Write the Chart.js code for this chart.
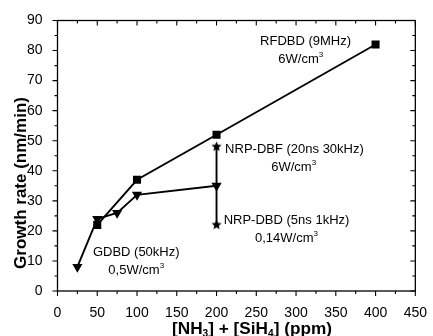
<!DOCTYPE html>
<html><head><meta charset="utf-8">
<script src="https://cdn.jsdelivr.net/npm/chart.js@4.4.1/dist/chart.umd.min.js"></script>
<style>html,body{margin:0;padding:0;background:#fff;overflow:hidden}canvas{display:block}</style>
</head><body>
<canvas id="c" width="433" height="336"></canvas>
<script>
// ---- data ----
const rfdbdX = [50, 100, 200, 400];
const rfdbdY = [22, 37, 52, 82];
const gdbdX = [25, 50, 75, 100, 200];
const gdbdY = [8, 24, 26, 32, 35];
const nrpX = [200, 200];
const nrpY = [48, 22];
const xTickLabels = [0, 50, 100, 150, 200, 250, 300, 350, 400, 450];
const yTickLabels = [0, 10, 20, 30, 40, 50, 60, 70, 80, 90];
const xTitleParts = ['[NH', '3', '] + [SiH', '4', '] (ppm)'];
const yTitle = 'Growth rate (nm/min)';
const annotTexts = ['RFDBD (9MHz)', '6W/cm', 'NRP-DBF (20ns 30kHz)', '6W/cm', 'NRP-DBD (5ns 1kHz)', '0,14W/cm', 'GDBD (50kHz)', '0,5W/cm'];
const annotSup = ['', '3', '', '3', '', '3', '', '3'];
const annotX = [312, 306, 298, 297, 288, 288, 99, 99];
const annotY = [83, 77, 47, 41, 23.6, 17.5, 12.7, 6.7];

const FONT = '"Liberation Sans", Arial, sans-serif';

function starCanvas(R, r) {
  const s = Math.ceil(2 * R + 2);
  const c = document.createElement('canvas');
  c.width = s; c.height = s;
  const g = c.getContext('2d');
  g.fillStyle = '#000';
  g.beginPath();
  for (let i = 0; i < 10; i++) {
    const a = -Math.PI / 2 + i * Math.PI / 5;
    const rad = i % 2 ? r : R;
    g.lineTo(s / 2 + rad * Math.cos(a), s / 2 + rad * Math.sin(a));
  }
  g.closePath();
  g.fill();
  return c;
}

const pts = (xs, ys) => xs.map((x, i) => ({ x: x, y: ys[i] }));

const decorPlugin = {
  id: 'decor',
  afterDraw(chart) {
    const ctx = chart.ctx;
    const a = chart.chartArea;
    const xs = chart.scales.x, ys = chart.scales.y;
    ctx.save();
    ctx.strokeStyle = '#000';
    ctx.lineWidth = 1.3;
    ctx.strokeRect(a.left, a.top, a.right - a.left, a.bottom - a.top);
    ctx.lineWidth = 1.1;
    ctx.beginPath();
    for (let v = 0; v <= 450; v += 25) {
      const p = xs.getPixelForValue(v);
      const len = (v % 50 === 0) ? 5 : 3;
      ctx.moveTo(p, a.bottom); ctx.lineTo(p, a.bottom + len);
      ctx.moveTo(p, a.top); ctx.lineTo(p, a.top + len);
    }
    for (let v = 0; v <= 90; v += 5) {
      const p = ys.getPixelForValue(v);
      const len = (v % 10 === 0) ? 5 : 3;
      ctx.moveTo(a.left - len, p); ctx.lineTo(a.left, p);
      ctx.moveTo(a.right - len, p); ctx.lineTo(a.right, p);
    }
    ctx.stroke();

    // annotations
    ctx.fillStyle = '#000';
    ctx.textBaseline = 'middle';
    ctx.textAlign = 'left';
    for (let i = 0; i < annotTexts.length; i++) {
      ctx.font = '13px ' + FONT;
      const w1 = ctx.measureText(annotTexts[i]).width;
      ctx.font = '8px ' + FONT;
      const w2 = annotSup[i] ? ctx.measureText(annotSup[i]).width : 0;
      const cx = xs.getPixelForValue(annotX[i]);
      const cy = ys.getPixelForValue(annotY[i]);
      const x0 = cx - (w1 + w2) / 2;
      ctx.font = '13px ' + FONT;
      ctx.fillText(annotTexts[i], x0, cy);
      if (annotSup[i]) {
        ctx.font = '8px ' + FONT;
        ctx.fillText(annotSup[i], x0 + w1, cy - 5);
      }
    }

    // x title with subscripts
    ctx.textBaseline = 'alphabetic';
    const mainF = 'bold 17px ' + FONT, subF = 'bold 10px ' + FONT;
    let tw = 0;
    const widths = xTitleParts.map((t, i) => { ctx.font = i % 2 ? subF : mainF; const w = ctx.measureText(t).width; tw += w; return w; });
    const targetW = 160;
    const sx = targetW / tw;
    const xc = 252, yb = 334;
    ctx.save();
    ctx.translate(xc - targetW / 2, yb);
    ctx.scale(sx, 1);
    let cur = 0;
    xTitleParts.forEach((t, i) => {
      ctx.font = i % 2 ? subF : mainF;
      ctx.fillText(t, cur, i % 2 ? 3 : 0);
      cur += widths[i];
    });
    ctx.restore();

    // y title
    ctx.save();
    ctx.font = 'bold 17px ' + FONT;
    ctx.translate(26, 183);
    ctx.rotate(-Math.PI / 2);
    ctx.textAlign = 'center';
    ctx.textBaseline = 'alphabetic';
    ctx.fillText(yTitle, 0, 0);
    ctx.restore();

    ctx.restore();
  }
};

new Chart(document.getElementById('c'), {
  type: 'scatter',
  data: {
    datasets: [
      { data: pts(rfdbdX, rfdbdY), showLine: true, borderColor: '#000', borderWidth: 1.9,
        pointStyle: 'rect', pointRadius: 5.7, pointBackgroundColor: '#000', pointBorderWidth: 0 },
      { data: pts(gdbdX, gdbdY), showLine: true, borderColor: '#000', borderWidth: 1.9,
        pointStyle: 'triangle', rotation: 180, pointRadius: 5.9, pointBackgroundColor: '#000', pointBorderWidth: 0 },
      { data: pts(nrpX, nrpY), showLine: true, borderColor: '#000', borderWidth: 1.9,
        pointStyle: starCanvas(5.3, 2.4), pointRadius: 5, pointBorderWidth: 0 }
    ]
  },
  options: {
    responsive: false,
    devicePixelRatio: 1,
    animation: false,
    events: [],
    layout: { padding: { top: 20.5, right: 12, left: 0, bottom: 0 } },
    plugins: { legend: { display: false }, tooltip: { enabled: false } },
    scales: {
      x: {
        type: 'linear', min: 0, max: 450,
        afterBuildTicks: s => { s.ticks = xTickLabels.map(v => ({ value: v })); },
        afterFit: s => { s.height = 45; },
        grid: { display: false }, border: { display: false },
        ticks: { color: '#000', font: { family: FONT, size: 14 }, padding: 6, maxRotation: 0, autoSkip: false }
      },
      y: {
        type: 'linear', min: 0, max: 90,
        afterBuildTicks: s => { s.ticks = yTickLabels.map(v => ({ value: v })); },
        afterFit: s => { s.width = 57.5; },
        grid: { display: false }, border: { display: false },
        ticks: { color: '#000', font: { family: FONT, size: 14 }, padding: 7, autoSkip: false }
      }
    }
  },
  plugins: [decorPlugin]
});
</script>
</body></html>
